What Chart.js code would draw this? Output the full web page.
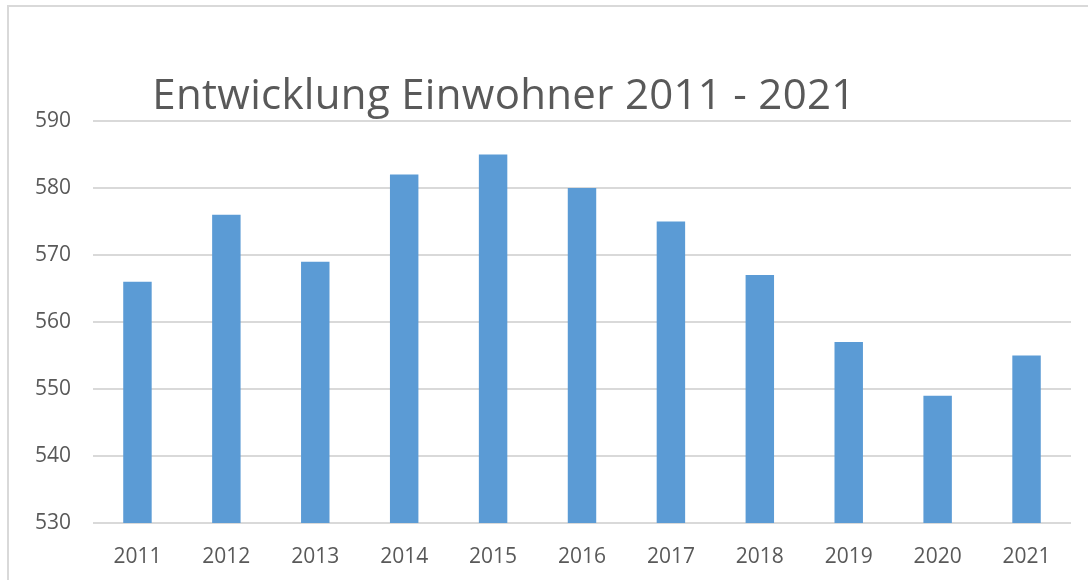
<!DOCTYPE html>
<html>
<head>
<meta charset="utf-8">
<script src="https://cdn.jsdelivr.net/npm/chart.js@4"></script>
<style>
  html, body { margin: 0; padding: 0; background: #fff; }
  #wrap { position: relative; width: 1088px; height: 580px; overflow: hidden; }
  #frame {
    position: absolute; left: 7px; top: 5px; width: 1200px; height: 700px;
    border-left: 2px solid #d9d9d9; border-top: 2px solid #d9d9d9;
  }
  #title {
    position: absolute; left: 0; width: 1008px; top: 64px;
    text-align: center; font-family: "Open Sans", sans-serif; font-size: 42px;
    color: #595959; letter-spacing: 0.3px; white-space: nowrap;
  }
  canvas { position: absolute; left: 0; top: 0; }
</style>
</head>
<body>
<div id="wrap">
  <div id="frame"></div>
  <canvas id="chart" width="1088" height="580"></canvas>
  <div id="title">Entwicklung Einwohner 2011 - 2021</div>
</div>
<script>
// ==========================
// DATA
// ==========================
const years = ["2011", "2012", "2013", "2014", "2015", "2016", "2017", "2018", "2019", "2020", "2021"];
const residents = [566, 576, 569, 582, 585, 580, 575, 567, 557, 549, 555];
const yMin = 530;
const yMax = 590;
const yStep = 10;

// ==========================
// CHART
// ==========================
const ctx = document.getElementById("chart").getContext("2d");

new Chart(ctx, {
  type: "bar",
  data: {
    labels: years,
    datasets: [{
      label: "Einwohner",
      data: residents,
      backgroundColor: "#5b9bd5",
      borderWidth: 0,
      barPercentage: 0.32,
      categoryPercentage: 1
    }]
  },
  options: {
    responsive: false,
    animation: false,
    layout: {
      padding: { left: 0, right: 17, top: 121, bottom: 0 }
    },
    plugins: {
      legend: { display: false },
      tooltip: { enabled: false },
      title: { display: false }
    },
    scales: {
      x: {
        afterFit: scale => { scale.height = 57; },
        grid: { display: false, drawTicks: false },
        border: { display: false },
        ticks: {
          color: "#595959",
          padding: 21,
          font: { family: "Open Sans", size: 21 }
        }
      },
      y: {
        min: yMin,
        max: yMax,
        afterFit: scale => { scale.width = 93; },
        grid: { color: "#d9d9d9", lineWidth: 2, drawTicks: false },
        border: { display: false },
        ticks: {
          stepSize: yStep,
          color: "#595959",
          padding: 22,
          font: { family: "Open Sans", size: 21 }
        }
      }
    }
  }
});
</script>
</body>
</html>
